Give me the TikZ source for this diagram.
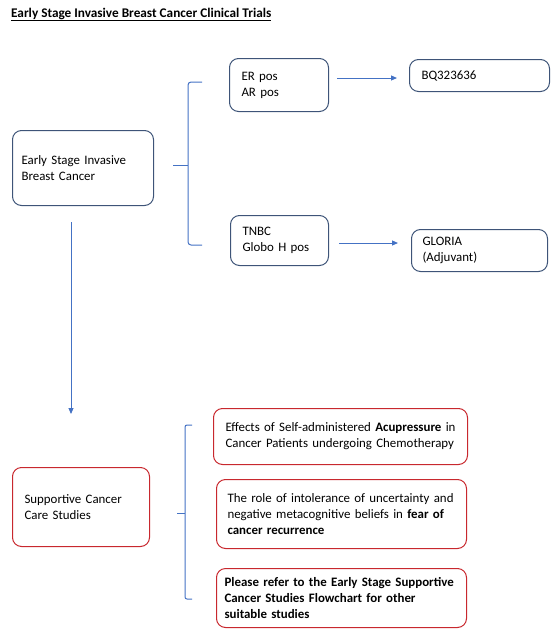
\documentclass[tikz,border=0pt]{standalone}
\usepackage{fontspec}
\setmainfont{Carlito}
\usetikzlibrary{arrows.meta}
\definecolor{boxblue}{HTML}{3E5478}
\definecolor{boxred}{HTML}{C8282E}
\definecolor{lineblue}{HTML}{4472C4}
\begin{document}
\begin{tikzpicture}[x=1pt,y=-1pt,
  every node/.style={font=\fontsize{12.9pt}{16pt}\selectfont},
  basebox/.style={draw, line width=1pt, rounded corners=9pt, anchor=north west, align=left, inner ysep=0pt},
  bluebox/.style={basebox, draw=boxblue},
  redbox/.style={basebox, draw=boxred},
  conn/.style={draw=lineblue, line width=1pt},
  arr/.style={conn, -{Triangle[length=6pt,width=5pt]}},
  brace/.style={conn, rounded corners=3pt}]
\useasboundingbox (0,0) rectangle (559,640);
\node[anchor=base west, inner sep=0pt, font=\fontsize{13.25pt}{14pt}\selectfont\bfseries] (title) at (11,17) {\underline{Early Stage Invasive Breast Cancer Clinical Trials}};
% top section
\node[bluebox, minimum height=75pt, inner xsep=9pt, text width=123pt] (early) at (12,130) {Early Stage Invasive\\Breast Cancer};
\node[bluebox, minimum height=53pt, inner xsep=12pt, text width=75pt] (er) at (229,58) {ER pos\\AR pos};
\node[bluebox, minimum height=50pt, inner xsep=12pt, text width=74pt] (tnbc) at (230,215) {TNBC\\Globo H pos};
\node[bluebox, minimum height=32pt, inner xsep=12pt, text width=116pt] (bq) at (409,59) {BQ323636};
\node[bluebox, minimum height=42pt, inner xsep=11pt, text width=114pt] (gloria) at (411,229) {GLORIA\\(Adjuvant)};
% brace 1
\coordinate (b1top) at (202,82);
\coordinate (b1bot) at (202,245);
\coordinate (b1mid) at (173,165);
\draw[brace] (b1top) -- (188,82) -- (188,245) -- (b1bot);
\draw[conn] (b1mid) -- (188,165);
% arrows
\coordinate (a1s) at (337,78); \coordinate (a1e) at (397,78);
\coordinate (a2s) at (339,243); \coordinate (a2e) at (398,243);
\draw[arr] (a1s) -- (a1e);
\draw[arr] (a2s) -- (a2e);
\coordinate (vA) at (71,222); \coordinate (vB) at (71,414);
\draw[arr] (vA) -- (vB);
% bottom section
\node[redbox, minimum height=79pt, inner xsep=12pt, text width=113pt] (supp) at (12,467) {Supportive Cancer\\Care Studies};
\node[redbox, minimum height=56pt, inner xsep=12pt, text width=230pt] (acu) at (213,408) {Effects of Self-administered \textbf{Acupressure} in\\Cancer Patients undergoing Chemotherapy};
\node[redbox, minimum height=69pt, inner xsep=11pt, text width=228pt] (fear) at (216,479) {The role of intolerance of uncertainty and\\negative metacognitive beliefs in \textbf{fear of}\\\textbf{cancer recurrence}};
\node[redbox, minimum height=59pt, inner xsep=8pt, text width=234pt] (refer) at (216,568) {\textbf{Please refer to the Early Stage Supportive}\\\textbf{Cancer Studies Flowchart for other}\\\textbf{suitable studies}};
% brace 2
\coordinate (b2top) at (192,425);
\coordinate (b2bot) at (192,599);
\coordinate (b2mid) at (177,513);
\draw[brace, rounded corners=2pt] (b2top) -- (185,425) -- (185,599) -- (b2bot);
\draw[conn] (b2mid) -- (185,513);
\end{tikzpicture}
\end{document}
